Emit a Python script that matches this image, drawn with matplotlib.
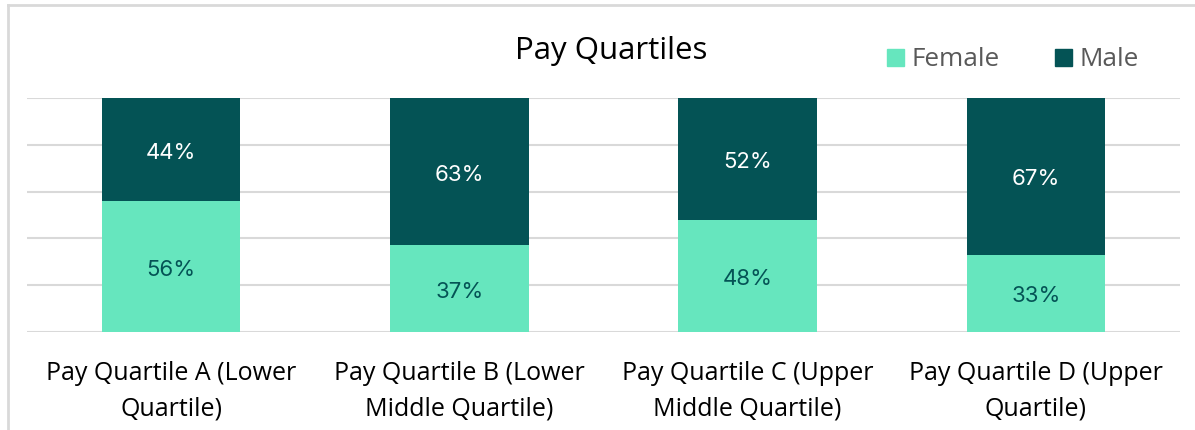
import matplotlib
matplotlib.use("Agg")
import matplotlib.pyplot as plt
from matplotlib.patches import Rectangle

categories = ["Pay Quartile A (Lower\nQuartile)", "Pay Quartile B (Lower\nMiddle Quartile)",
              "Pay Quartile C (Upper\nMiddle Quartile)", "Pay Quartile D (Upper\nQuartile)"]
female = [56, 37, 48, 33]
male = [44, 63, 52, 67]

FEM_C = "#66E6BE"
MALE_C = "#045355"
FONT = ["Open Sans", "DejaVu Sans"]

W, H = 1195, 431
fig = plt.figure(figsize=(W / 100, H / 100), dpi=100)
ax = fig.add_axes([27 / W, 1 - 333 / H, (1180 - 27) / W, (333 - 99) / H])

x = range(len(categories))
ax.bar(x, female, width=0.48, color=FEM_C, zorder=3, label="Female")
ax.bar(x, male, width=0.48, bottom=female, color=MALE_C, zorder=3, label="Male")

for i, (f, m) in enumerate(zip(female, male)):
    ax.text(i, f / 2 - 0.9, f"{f}%", ha="center", va="center", color=MALE_C,
            fontsize=16, family=["Inter", "DejaVu Sans"], zorder=4)
    ax.text(i, f + m / 2 - 0.9, f"{m}%", ha="center", va="center", color="white",
            fontsize=16, family=["Inter", "DejaVu Sans"], zorder=4)

ax.set_xlim(-0.5, 3.5)
ax.set_ylim(0, 100)
ax.set_yticks([0, 20, 40, 60, 80, 100])
ax.yaxis.grid(True, color="#D9D9D9", linewidth=1.5, zorder=0)
ax.tick_params(axis="y", left=False, labelleft=False)
ax.tick_params(axis="x", bottom=False, pad=17)
ax.set_xticks(list(x))
ax.set_xticklabels(categories, fontsize=18, family=FONT, color="black", linespacing=1.55)
for s in ax.spines.values():
    s.set_visible(False)

fig.text(611 / W, 1 - 51 / H, "Pay Quartiles", ha="center", va="center",
         fontsize=22.5, family=FONT, color="black")

# legend
fig.patches.append(Rectangle((887 / W, 1 - 67 / H), 17 / W, 17 / H,
                             transform=fig.transFigure, color=FEM_C))
fig.text(911 / W, 1 - 59 / H, "Female", ha="left", va="center", fontsize=18.8,
         family=FONT, color="#595959")
fig.patches.append(Rectangle((1055 / W, 1 - 67 / H), 17 / W, 17 / H,
                             transform=fig.transFigure, color=MALE_C))
fig.text(1079 / W, 1 - 59 / H, "Male", ha="left", va="center", fontsize=18.8,
         family=FONT, color="#595959")

# outer border
fig.add_artist(plt.Line2D([7.5 / W, 7.5 / W], [0, 1 - 5.5 / H], color="#D9D9D9",
                          linewidth=2, transform=fig.transFigure))
fig.add_artist(plt.Line2D([7.5 / W, 1], [1 - 5.5 / H, 1 - 5.5 / H], color="#D9D9D9",
                          linewidth=2, transform=fig.transFigure))

fig.savefig("out.png", dpi=100)
